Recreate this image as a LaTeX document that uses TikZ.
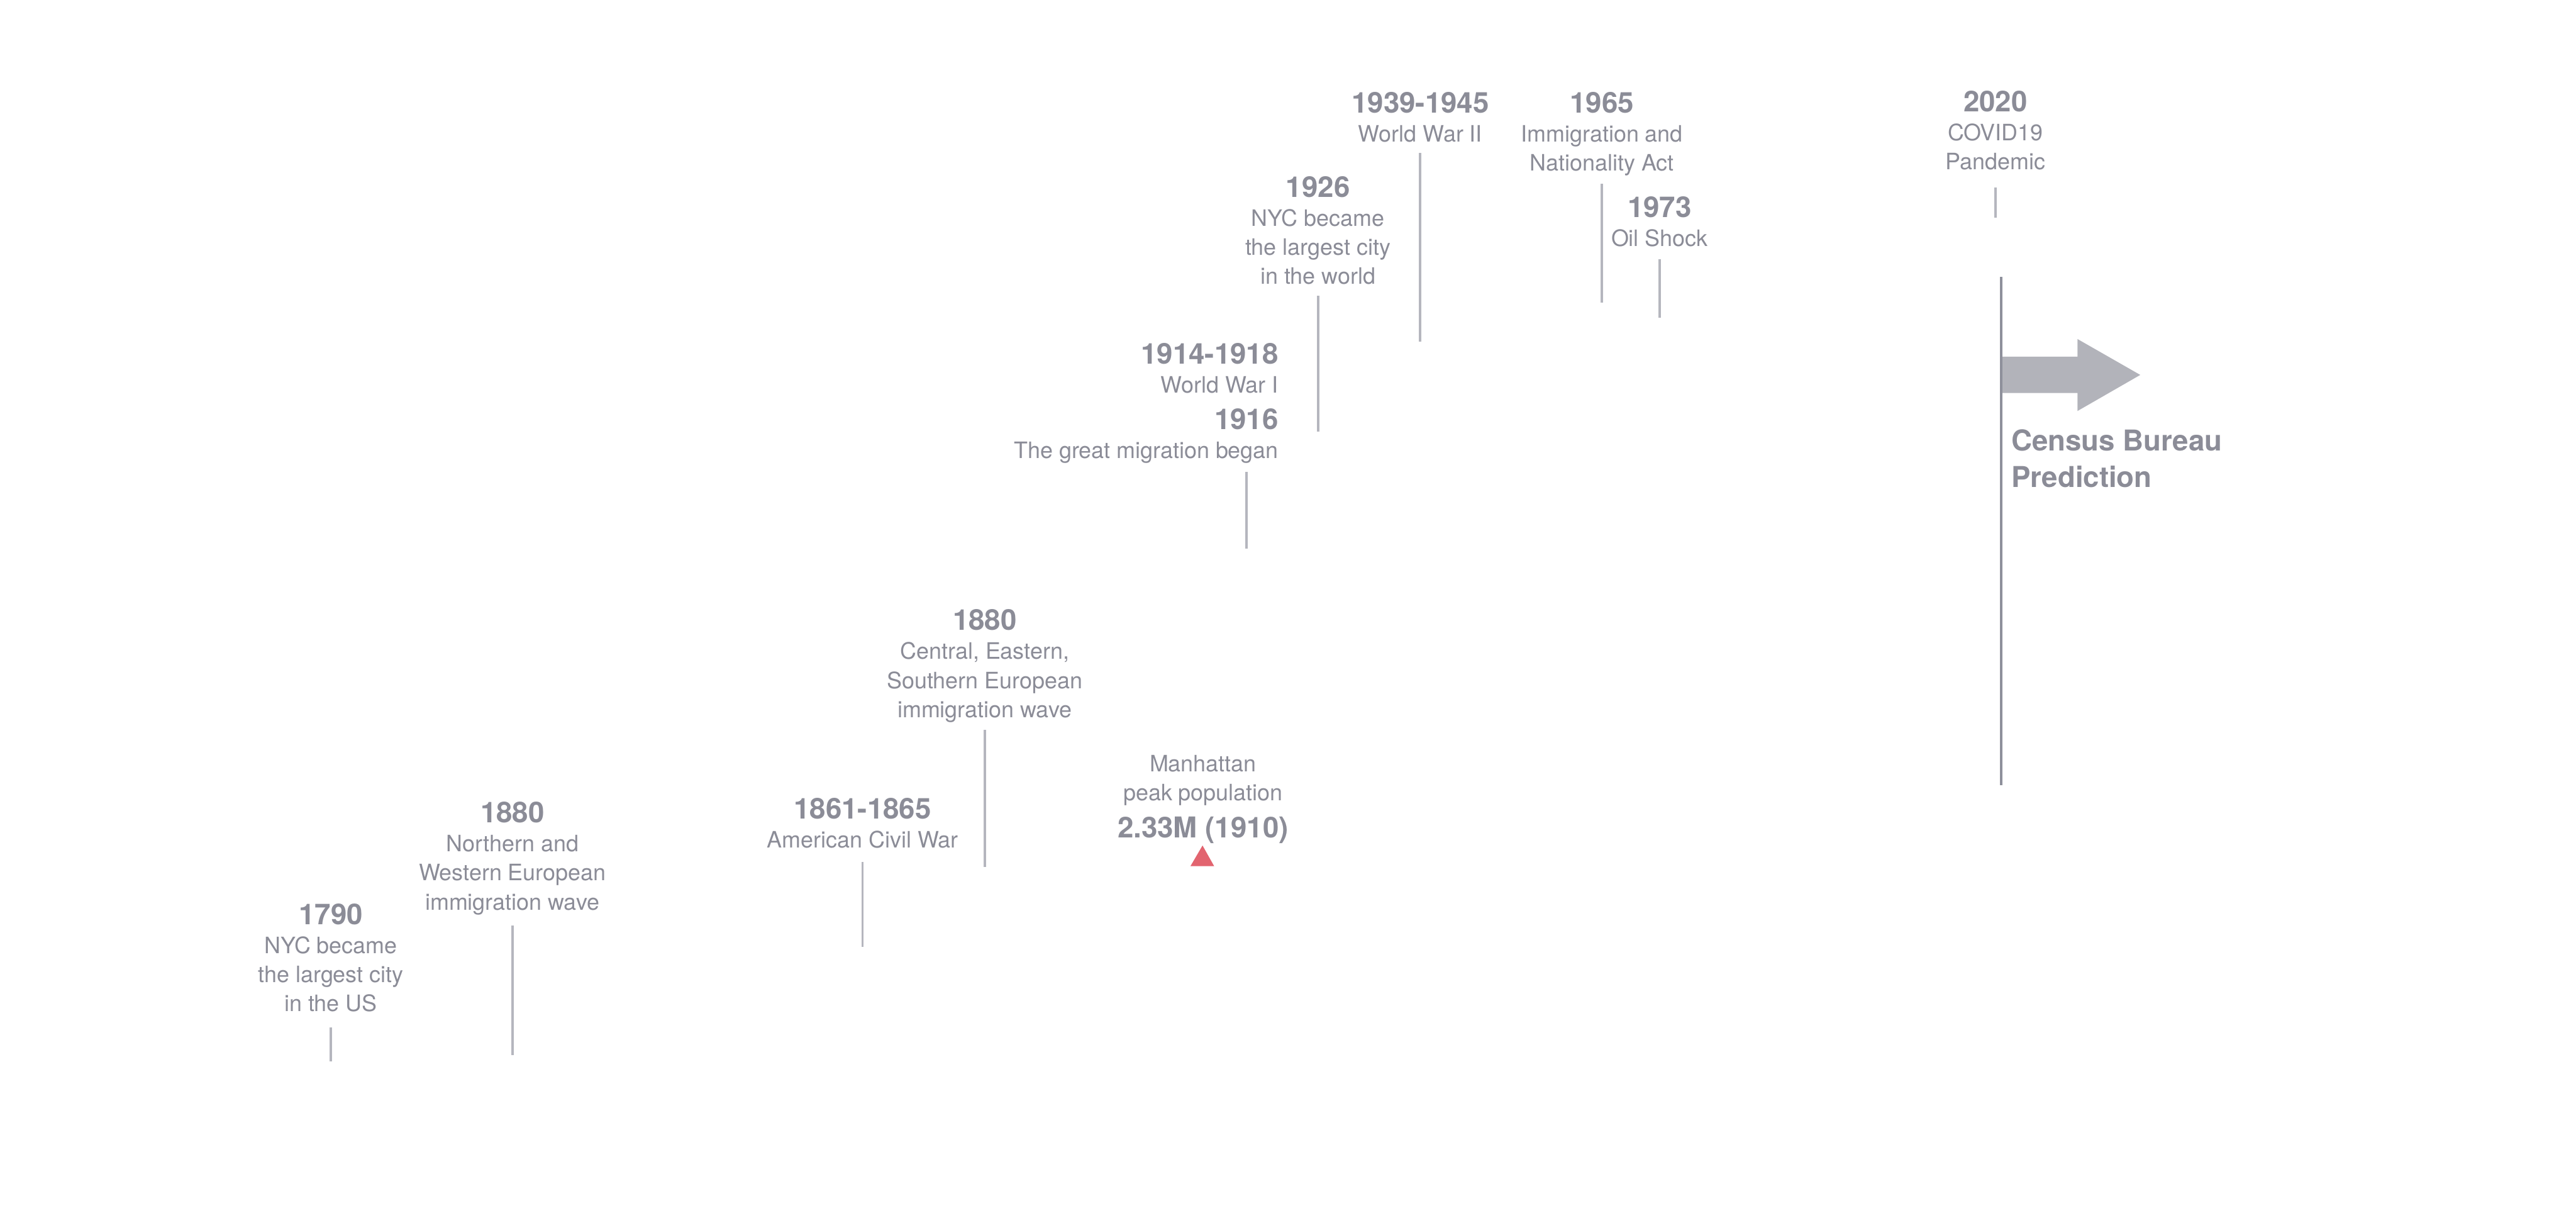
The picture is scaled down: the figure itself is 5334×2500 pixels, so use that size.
\documentclass[tikz,border=0pt]{standalone}
\usepackage{fontspec}
\setmainfont{TeX Gyre Heros}
\definecolor{txt}{HTML}{8B8C97}
\definecolor{tickc}{HTML}{B5B6BE}
\definecolor{darkline}{HTML}{8E909B}
\definecolor{arrowc}{HTML}{B2B3BA}
\definecolor{peak}{HTML}{E2646F}
\newcommand\yf{\fontsize{16.9}{17.07}\selectfont\bfseries}
\newcommand\bodyf{\fontsize{13.3}{17.07}\selectfont}
\newcommand\evc[1]{\begin{tabular}[t]{@{}c@{}}#1\end{tabular}}
\newcommand\evr[1]{\begin{tabular}[t]{@{}r@{}}#1\end{tabular}}
\newcommand\evl[1]{\begin{tabular}[t]{@{}l@{}}#1\end{tabular}}
\begin{document}
\begin{tikzpicture}[x=0.01cm,y=-0.01cm,
  ev/.style={inner sep=0pt,outer sep=0pt,text=txt,font=\bodyf,anchor=base},
  evright/.style={ev,anchor=base east},
  evleft/.style={ev,anchor=base west},
  tick/.style={draw=tickc,line width=1.42pt},
  mainline/.style={draw=darkline,line width=1.42pt},
  bigarrow/.style={fill=arrowc,draw=none},
  marker/.style={fill=peak,draw=none}]
\useasboundingbox (0,0) rectangle (5334,2500);

% events
\node[ev] (e1790) at (685,1913) {\evc{{\yf 1790}\\NYC became\\the largest city\\in the US}};
\node[ev] (e1880n) at (1061,1703) {\evc{{\yf 1880}\\Northern and\\Western European\\immigration wave}};
\node[ev] (e1861) at (1786,1695) {\evc{{\yf 1861-1865}\\American Civil War}};
\node[ev] (e1880c) at (2039,1304.6) {\evc{{\yf 1880}\\Central, Eastern,\\Southern European\\immigration wave}};
\node[ev] (peakpop) at (2491,1597) {\evc{Manhattan\\peak population\\[4.4pt]{\yf 2.33M (1910)}}};
\node[evright] (e1914) at (2647,753) {\evr{{\yf 1914-1918}\\World War I\\[4.2pt]{\yf 1916}\\The great migration began}};
\node[ev] (e1926) at (2729,408) {\evc{{\yf 1926}\\NYC became\\the largest city\\in the world}};
\node[ev] (e1939) at (2941,234) {\evc{{\yf 1939-1945}\\World War II}};
\node[ev] (e1965) at (3317,233.4) {\evc{{\yf 1965}\\Immigration and\\Nationality Act}};
\node[ev] (e1973) at (3436.5,450.4) {\evc{{\yf 1973}\\Oil Shock}};
\node[ev] (e2020) at (4131.8,231.3) {\evc{{\yf 2020}\\COVID19\\Pandemic}};
\node[evleft] (census) at (4165,932.6) {\evl{{\yf Census Bureau}\\[3.8pt]{\yf Prediction}}};

% tick lines
\draw[tick] (685,2126) -- (685,2197);
\draw[tick] (1061,1916) -- (1061,2184);
\draw[tick] (1786,1784) -- (1786,1960);
\draw[tick] (2039,1511) -- (2039,1794);
\draw[tick] (2580.6,977) -- (2580.6,1136);
\draw[tick] (2730,612) -- (2730,893);
\draw[tick] (2940,316.5) -- (2940,707);
\draw[tick] (3317,380) -- (3317,626);
\draw[tick] (3436.5,537) -- (3436.5,658);
\draw[tick] (4131.5,388) -- (4131.5,450.7);

% prediction line and arrow
\draw[mainline] (4144,573) -- (4144,1625);
\fill[bigarrow] (4146.5,738.3) -- (4301.7,738.3) -- (4301.7,701.7) -- (4431.7,776)
  -- (4301.7,850.7) -- (4301.7,813.3) -- (4146.5,813.3) -- cycle;

% peak marker
\fill[marker] (2465,1792.7) -- (2514,1792.7) -- (2490,1750) -- cycle;
\end{tikzpicture}
\end{document}
